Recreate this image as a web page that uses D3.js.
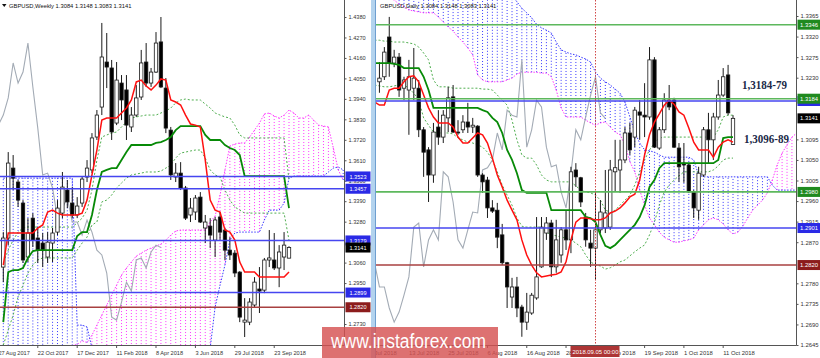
<!DOCTYPE html>
<html>
<head>
<meta charset="utf-8">
<script src="https://cdn.jsdelivr.net/npm/d3@7"></script>
<style>
  body { margin: 0; background: #fff; }
  svg { display: block; font-family: "Liberation Sans", Arial, sans-serif; }
</style>
</head>
<body>
<svg id="chart" width="820" height="358"></svg>
<script>
///////////////////////////////////////////////////////////////////////////////
// Weekly GBPUSD (bar 0 = first visible week)

const wOpen  = [1.3036,1.3192,1.3568,1.3493,1.3380,1.3090,1.3299,1.3192,1.3165,1.3090,1.3165,1.3224,1.3326,1.3450,1.3380,1.3316,1.3380,1.3520,1.3558,1.3735,1.3896,1.4138,1.4106,1.3810,1.4025,1.3988,1.3789,1.3853,1.3950,1.4138,1.4025,1.4084,1.4246,1.3998,1.3772,1.3520,1.3541,1.3461,1.3316,1.3332,1.3412,1.3246,1.3256,1.3181,1.3305,1.3235,1.3127,1.3111,1.3009,1.2740,1.2740,1.2832,1.2918,1.2912,1.3074,1.3074,1.3031,1.3090,1.3084];
const wHigh  = [1.3224,1.3654,1.3638,1.3504,1.3396,1.3299,1.3326,1.3251,1.3219,1.3224,1.3246,1.3396,1.3547,1.3504,1.3466,1.3412,1.3525,1.3611,1.3756,1.3880,1.4348,1.4294,1.4149,1.4138,1.4068,1.4068,1.3896,1.4014,1.4203,1.4240,1.4106,1.4299,1.4380,1.4052,1.3789,1.3595,1.3600,1.3472,1.3407,1.3423,1.3439,1.3316,1.3299,1.3305,1.3332,1.3246,1.3197,1.3127,1.3014,1.2869,1.2869,1.2982,1.3036,1.3085,1.3235,1.3219,1.3154,1.3224,1.3148];
const wLow   = [1.2955,1.3154,1.3450,1.3359,1.3058,1.3063,1.3144,1.3058,1.3036,1.3058,1.3063,1.3208,1.3299,1.3353,1.3299,1.3299,1.3359,1.3493,1.3541,1.3719,1.3853,1.3998,1.3719,1.3799,1.3826,1.3719,1.3762,1.3843,1.3934,1.4004,1.4004,1.4079,1.3998,1.3756,1.3504,1.3493,1.3450,1.3289,1.3278,1.3289,1.3273,1.3165,1.3138,1.3090,1.3181,1.3074,1.3074,1.2982,1.2740,1.2660,1.2724,1.2821,1.2789,1.2896,1.3036,1.3020,1.2928,1.3020,1.3083];
const wClose = [1.3192,1.3595,1.3514,1.3396,1.3074,1.3219,1.3181,1.3127,1.3127,1.3170,1.3219,1.3353,1.3466,1.3386,1.3316,1.3364,1.3509,1.3568,1.3730,1.3853,1.4165,1.4111,1.3762,1.4041,1.3934,1.3799,1.3853,1.3945,1.4133,1.4025,1.4084,1.4240,1.4004,1.3783,1.3531,1.3541,1.3461,1.3299,1.3353,1.3407,1.3278,1.3278,1.3208,1.3289,1.3224,1.3127,1.3101,1.3004,1.2767,1.2751,1.2848,1.2955,1.2907,1.3074,1.3085,1.3031,1.3117,1.3154,1.3141];

const wTenkan = [1.3047,1.3219,1.3219,1.3219,1.3219,1.3219,1.3219,1.3246,1.3262,1.3332,1.3342,1.3326,1.3316,1.3316,1.3316,1.3316,1.3326,1.3396,1.3531,1.3665,1.3826,1.3837,1.3837,1.3837,1.3864,1.3891,1.3934,1.4031,1.4041,1.4009,1.3988,1.4014,1.4047,1.4041,1.3934,1.3923,1.3907,1.3853,1.3805,1.3799,1.3789,1.3611,1.3396,1.3342,1.3332,1.3235,1.3224,1.3181,1.3063,1.3009,1.3009,1.3009,1.2982,1.2982,1.2982,1.2982,1.2982,1.2982,1.3009];
const wKijun  = [1.2740,1.3009,1.3020,1.3020,1.3031,1.3085,1.3122,1.3127,1.3127,1.3127,1.3127,1.3127,1.3127,1.3127,1.3127,1.3203,1.3224,1.3224,1.3316,1.3450,1.3547,1.3558,1.3568,1.3568,1.3611,1.3654,1.3692,1.3692,1.3692,1.3692,1.3692,1.3703,1.3708,1.3719,1.3735,1.3772,1.3794,1.3794,1.3794,1.3794,1.3794,1.3746,1.3719,1.3719,1.3719,1.3692,1.3676,1.3665,1.3638,1.3525,1.3525,1.3525,1.3525,1.3525,1.3525,1.3525,1.3525,1.3525,1.3353];
// senkou spans, already shifted forward (run 11 bars past the last candle)
const wSpanA  = [1.2455,1.2470,1.2462,1.2488,1.2495,1.2510,1.2534,1.2541,1.2538,1.2560,1.2575,1.2590,1.2600,1.2610,1.2615,1.2620,1.2640,1.2630,1.2670,1.2724,1.2778,1.2832,1.2886,1.2939,1.2993,1.3031,1.3063,1.3095,1.3111,1.3127,1.3138,1.3149,1.3160,1.3181,1.3208,1.3230,1.3235,1.3235,1.3235,1.3235,1.3235,1.3235,1.3278,1.3310,1.3423,1.3558,1.3687,1.3697,1.3703,1.3703,1.3735,1.3772,1.3810,1.3859,1.3864,1.3848,1.3837,1.3853,1.3880,1.3864,1.3837,1.3837,1.3853,1.3826,1.3799,1.3794,1.3789,1.3676,1.3558,1.3504];
const wSpanB  = [1.3514,1.3514,1.3514,1.3514,1.3514,1.3514,1.3514,1.3514,1.3514,1.3514,1.3514,1.3514,1.3514,1.3514,1.3514,1.2724,1.2724,1.2714,1.2601,1.2601,1.2601,1.2601,1.2601,1.2601,1.2601,1.2601,1.2601,1.2601,1.2601,1.2601,1.2601,1.2601,1.2601,1.2601,1.2601,1.2601,1.2601,1.2601,1.2601,1.2601,1.2601,1.2601,1.2601,1.2821,1.2939,1.3047,1.3181,1.3219,1.3224,1.3224,1.3224,1.3224,1.3224,1.3289,1.3342,1.3342,1.3342,1.3380,1.3514,1.3525,1.3525,1.3525,1.3525,1.3525,1.3525,1.3525,1.3547,1.3568,1.3574,1.3558];
// two extra dotted guide lines of the template
const wGuide1 = [1.3063,1.3127,1.3181,1.3224,1.3246,1.3251,1.3251,1.3251,1.3251,1.3251,1.3251,1.3251,1.3251,1.3251,1.3251,1.3273,1.3299,1.3342,1.3450,1.3611,1.3735,1.3746,1.3756,1.3762,1.3789,1.3816,1.3837,1.3843,1.3848,1.3853,1.3853,1.3853,1.3864,1.3875,1.3891,1.3918,1.3934,1.3939,1.3934,1.3934,1.3934,1.3912,1.3891,1.3864,1.3853,1.3843,1.3837,1.3799,1.3746,1.3730,1.3730,1.3730,1.3730,1.3730,1.3730,1.3730,1.3730,1.3730,1.3504];
const wGuide2 = [1.2617,1.2697,1.2778,1.2875,1.2939,1.3004,1.3047,1.3074,1.3085,1.3085,1.3085,1.3085,1.3085,1.3085,1.3085,1.3127,1.3165,1.3197,1.3262,1.3278,1.3386,1.3396,1.3423,1.3461,1.3488,1.3514,1.3531,1.3536,1.3541,1.3547,1.3547,1.3547,1.3552,1.3568,1.3584,1.3622,1.3649,1.3654,1.3660,1.3665,1.3665,1.3622,1.3558,1.3531,1.3520,1.3450,1.3396,1.3359,1.3342,1.3326,1.3326,1.3326,1.3326,1.3326,1.3326,1.3326,1.3326,1.3326,1.3181];

const wPriceTicks = [1.4380,1.4270,1.4160,1.4050,1.3940,1.3830,1.3720,1.3610,1.3500,1.3390,1.3280,1.3170,1.3060,1.2950,1.2840,1.2730];
const wDateTickBars = [-1, 7, 15, 23, 31, 39, 47, 55];
const wDateTickLabels = ["27 Aug 2017","22 Oct 2017","17 Dec 2017","11 Feb 2018","8 Apr 2018","3 Jun 2018","29 Jul 2018","23 Sep 2018"];
const wLevels = [1.3523, 1.3457, 1.3179, 1.2899, 1.2820];
const wLevelKinds = ["blue", "blue", "blue", "blue", "red"];

///////////////////////////////////////////////////////////////////////////////
// Daily GBPUSD (bar 0 = 13 Jul 2018, candles start at bar -6, lines at -7)

const dOpen  = [1.3221,1.3232,1.3319,1.3262,1.3275,1.3207,1.3203,1.3207,1.3207,1.3116,1.3072,1.3017,1.3122,1.3100,1.3142,1.3188,1.3111,1.3116,1.3133,1.3122,1.3124,1.3017,1.3006,1.2945,1.2940,1.2886,1.2825,1.2750,1.2772,1.2728,1.2695,1.2715,1.2748,1.2816,1.2890,1.2912,1.2816,1.2842,1.2897,1.2875,1.3028,1.3011,1.2925,1.2868,1.2857,1.2897,1.2901,1.2903,1.3024,1.3028,1.3050,1.3109,1.3100,1.3155,1.3148,1.3144,1.3269,1.3076,1.3116,1.3181,1.3181,1.3076,1.3043,1.3039,1.2980,1.2940,1.3017,1.3116,1.3094,1.3144,1.3192,1.3236,1.3084];
const dHigh  = [1.3264,1.3297,1.3363,1.3291,1.3284,1.3232,1.3269,1.3295,1.3225,1.3122,1.3078,1.3131,1.3159,1.3159,1.3210,1.3214,1.3137,1.3148,1.3175,1.3142,1.3126,1.3021,1.3013,1.2962,1.2956,1.2910,1.2827,1.2792,1.2794,1.2733,1.2759,1.2759,1.2925,1.2925,1.2925,1.2919,1.2919,1.2903,1.2940,1.3035,1.3043,1.3013,1.2934,1.2897,1.2978,1.2962,1.3028,1.3050,1.3094,1.3094,1.3122,1.3131,1.3166,1.3181,1.3218,1.3297,1.3275,1.3122,1.3196,1.3214,1.3186,1.3087,1.3087,1.3043,1.2984,1.3035,1.3122,1.3153,1.3153,1.3225,1.3251,1.3258,1.3148];
const dLow   = [1.3197,1.3225,1.3232,1.3253,1.3188,1.3181,1.3105,1.3181,1.3100,1.3013,1.2958,1.3000,1.3083,1.3087,1.3111,1.3109,1.3105,1.3109,1.3109,1.3109,1.3013,1.2978,1.2923,1.2934,1.2857,1.2820,1.2726,1.2726,1.2706,1.2663,1.2678,1.2711,1.2744,1.2814,1.2875,1.2794,1.2803,1.2825,1.2853,1.2846,1.2991,1.2947,1.2860,1.2816,1.2787,1.2890,1.2890,1.2897,1.2980,1.2978,1.3043,1.3061,1.3078,1.3094,1.3100,1.3138,1.3076,1.3072,1.3109,1.3159,1.3076,1.3002,1.3000,1.2978,1.2923,1.2919,1.3013,1.3043,1.3050,1.3138,1.3188,1.3148,1.3083];
const dClose = [1.3229,1.3286,1.3262,1.3275,1.3203,1.3225,1.3232,1.3229,1.3116,1.3067,1.3017,1.3111,1.3100,1.3148,1.3186,1.3111,1.3109,1.3133,1.3122,1.3126,1.3017,1.3002,1.2945,1.2938,1.2881,1.2825,1.2772,1.2772,1.2726,1.2695,1.2717,1.2754,1.2794,1.2903,1.2912,1.2816,1.2875,1.2897,1.2875,1.3024,1.3013,1.2958,1.2875,1.2857,1.2897,1.2936,1.2934,1.3028,1.3033,1.3050,1.3109,1.3072,1.3159,1.3148,1.3144,1.3269,1.3078,1.3116,1.3181,1.3166,1.3078,1.3035,1.3039,1.2980,1.2945,1.3021,1.3116,1.3094,1.3144,1.3192,1.3232,1.3153,1.3141];

const dTenkan = [1.3177,1.3170,1.3170,1.3203,1.3207,1.3207,1.3221,1.3232,1.3234,1.3221,1.3192,1.3164,1.3144,1.3131,1.3131,1.3131,1.3122,1.3100,1.3087,1.3087,1.3098,1.3109,1.3105,1.3087,1.3054,1.3017,1.2991,1.2962,1.2940,1.2919,1.2875,1.2842,1.2820,1.2803,1.2794,1.2796,1.2798,1.2800,1.2805,1.2827,1.2875,1.2914,1.2923,1.2923,1.2921,1.2919,1.2919,1.2923,1.2934,1.2938,1.2945,1.2956,1.2969,1.2975,1.3006,1.3061,1.3105,1.3133,1.3151,1.3170,1.3181,1.3172,1.3155,1.3148,1.3120,1.3089,1.3072,1.3072,1.3072,1.3056,1.3078,1.3089,1.3094,1.3089];
const dKijun  = [1.3262,1.3262,1.3262,1.3262,1.3260,1.3258,1.3251,1.3251,1.3251,1.3251,1.3232,1.3203,1.3164,1.3164,1.3164,1.3164,1.3164,1.3164,1.3164,1.3164,1.3164,1.3164,1.3159,1.3155,1.3142,1.3133,1.3109,1.3072,1.3050,1.3021,1.2984,1.2978,1.2978,1.2978,1.2978,1.2978,1.2940,1.2940,1.2940,1.2940,1.2940,1.2940,1.2940,1.2925,1.2923,1.2914,1.2886,1.2862,1.2857,1.2864,1.2875,1.2886,1.2897,1.2908,1.2925,1.2951,1.2991,1.3006,1.3032,1.3043,1.3043,1.3043,1.3043,1.3043,1.3043,1.3043,1.3043,1.3043,1.3043,1.3043,1.3050,1.3098,1.3100,1.3100];
const dSpanA  = [1.3422,1.3418,1.3411,1.3404,1.3400,1.3391,1.3385,1.3378,1.3376,1.3374,1.3372,1.3372,1.3372,1.3363,1.3352,1.3341,1.3332,1.3319,1.3308,1.3295,1.3280,1.3236,1.3225,1.3221,1.3221,1.3221,1.3221,1.3225,1.3229,1.3238,1.3242,1.3242,1.3242,1.3242,1.3240,1.3240,1.3232,1.3203,1.3164,1.3144,1.3144,1.3144,1.3144,1.3137,1.3131,1.3126,1.3131,1.3133,1.3122,1.3111,1.3105,1.3083,1.3046,1.3024,1.2984,1.2951,1.2923,1.2908,1.2892,1.2881,1.2875,1.2870,1.2870,1.2873,1.2875,1.2879,1.2897,1.2908,1.2919,1.2923,1.2919,1.2910,1.2897,1.2888,1.2892,1.2905,1.2923,1.2940,1.2951,1.2962,1.2978,1.3006,1.3039,1.3065,1.3083,1.3100,1.3109];
const dSpanB  = [1.3460,1.3460,1.3460,1.3460,1.3460,1.3460,1.3460,1.3460,1.3460,1.3460,1.3460,1.3460,1.3460,1.3460,1.3460,1.3460,1.3460,1.3460,1.3460,1.3460,1.3460,1.3460,1.3460,1.3460,1.3460,1.3460,1.3460,1.3430,1.3410,1.3396,1.3382,1.3372,1.3361,1.3347,1.3339,1.3334,1.3328,1.3308,1.3291,1.3286,1.3282,1.3280,1.3275,1.3271,1.3264,1.3242,1.3229,1.3221,1.3214,1.3205,1.3196,1.3177,1.3144,1.3111,1.3087,1.3072,1.3070,1.3067,1.3061,1.3056,1.3056,1.3056,1.3056,1.3056,1.3056,1.3050,1.3017,1.3013,1.3013,1.3013,1.3013,1.3013,1.3013,1.3013,1.3013,1.3013,1.3013,1.3013,1.3013,1.3013,1.3013,1.2995,1.2984,1.2984,1.2984,1.2984,1.2984];
const dGuide1 = [1.3312,1.3312,1.3310,1.3310,1.3308,1.3308,1.3308,1.3306,1.3304,1.3297,1.3284,1.3269,1.3225,1.3210,1.3210,1.3210,1.3207,1.3207,1.3207,1.3207,1.3207,1.3207,1.3205,1.3205,1.3203,1.3192,1.3181,1.3170,1.3137,1.3094,1.3061,1.3054,1.3054,1.3039,1.3017,1.3006,1.3002,1.3002,1.3002,1.3002,1.3002,1.2993,1.2984,1.2980,1.2978,1.2973,1.2962,1.2940,1.2936,1.2940,1.2951,1.2962,1.2973,1.2995,1.3024,1.3050,1.3072,1.3087,1.3098,1.3100,1.3100,1.3100,1.3100,1.3100,1.3100,1.3100,1.3100,1.3100,1.3100,1.3100,1.3116,1.3144,1.3148,1.3148];
const dGuide2 = [1.3214,1.3212,1.3210,1.3210,1.3212,1.3214,1.3214,1.3207,1.3196,1.3181,1.3142,1.3126,1.3111,1.3109,1.3109,1.3109,1.3107,1.3098,1.3094,1.3089,1.3087,1.3083,1.3078,1.3067,1.3050,1.3024,1.2995,1.2973,1.2951,1.2923,1.2905,1.2903,1.2903,1.2903,1.2903,1.2892,1.2886,1.2884,1.2881,1.2879,1.2875,1.2868,1.2860,1.2842,1.2827,1.2820,1.2818,1.2811,1.2814,1.2820,1.2827,1.2831,1.2840,1.2849,1.2857,1.2864,1.2886,1.2914,1.2951,1.2980,1.2995,1.3006,1.3015,1.3024,1.3024,1.3024,1.3024,1.3024,1.3024,1.3028,1.3037,1.3050,1.3054,1.3054];

const dPriceTicks = [1.3365,1.3320,1.3275,1.3230,1.3185,1.3140,1.3095,1.3050,1.3005,1.2960,1.2915,1.2870,1.2825,1.2780,1.2735,1.2690,1.2645];
const dDateTickBars = [-8, 0, 8, 16, 24, 32, 40, 48, 56, 64];
const dDateTickLabels = ["3 Jul 2018","13 Jul 2018","25 Jul 2018","6 Aug 2018","16 Aug 2018","28 Aug 2018","7 Sep 2018","19 Sep 2018","1 Oct 2018","11 Oct 2018"];
const dLevels = [1.3346, 1.3184, 1.3179, 1.2980, 1.2901, 1.2820];
const dLevelKinds = ["green", "green", "blue", "green", "blue", "red"];
const dCursorBar = 38;                 // 2018.09.05
const dCursorLabel = "2018.09.05 00:00";
const lastQuote = "1.3084 1.3148 1.3083 1.3141";
const lastClose = 1.3141;

///////////////////////////////////////////////////////////////////////////////
// Drawing

const BLUE = "#3838ff", MAG = "#ff38ff";
const levelLine = { blue: "#4646f0", green: "#5db85d", red: "#a84040" };
const levelBox  = { blue: "#2a2ae6", green: "#1f8a1f", red: "#8c1c1c" };

const svg = d3.select("#chart");
const defs = svg.append("defs");

var clipped = function (id, x0, x1, y1) {
  defs.append("clipPath").attr("id", id).append("rect")
    .attr("x", x0).attr("y", 0).attr("width", x1 - x0).attr("height", y1);
  return svg.append("g").attr("clip-path", "url(#" + id + ")");
};

var drawChart = function (c) {
  var x = c.x, y = c.y;
  var plot = clipped(c.id, c.left, c.right, c.bottom);
  var linePath = function (vals, start) {
    return d3.line().x(function (v, k) { return x(k + start); }).y(function (v) { return y(v); })(vals);
  };

  // kumo: one dotted stick per bar between the two spans
  var kumo = c.spanA.map(function (a, k) { return { i: k + c.lineStart, a: a, b: c.spanB[k] }; });
  plot.append("g").selectAll("line").data(kumo).join("line")
    .attr("x1", function (d) { return x(d.i); }).attr("x2", function (d) { return x(d.i); })
    .attr("y1", function (d) { return y(d.a); }).attr("y2", function (d) { return y(d.b); })
    .attr("stroke", function (d) { return d.b > d.a ? BLUE : MAG; })
    .attr("stroke-width", 1).attr("stroke-dasharray", "1,2");
  plot.append("path").attr("d", linePath(c.spanA, c.lineStart))
    .attr("fill", "none").attr("stroke", MAG).attr("stroke-width", 1).attr("stroke-dasharray", "1.5,1.5");
  plot.append("path").attr("d", linePath(c.spanB, c.lineStart))
    .attr("fill", "none").attr("stroke", BLUE).attr("stroke-width", 1).attr("stroke-dasharray", "1.5,1.5");

  // dotted guides
  [c.guide1, c.guide2].forEach(function (g) {
    plot.append("path").attr("d", linePath(g, c.lineStart))
      .attr("fill", "none").attr("stroke", "#4fae4f").attr("stroke-width", 1).attr("stroke-dasharray", "2,2");
  });

  // chikou: closes drawn 26 bars back
  plot.append("path").attr("d", linePath(c.close, c.candleStart - 26))
    .attr("fill", "none").attr("stroke", "#a3abb5").attr("stroke-width", 1.1);

  // candles
  var bars = c.open.map(function (o, k) {
    return { i: k + c.candleStart, o: o, h: c.high[k], l: c.low[k], c: c.close[k] };
  });
  var cg = plot.append("g");
  cg.selectAll("line").data(bars).join("line")
    .attr("x1", function (d) { return x(d.i); }).attr("x2", function (d) { return x(d.i); })
    .attr("y1", function (d) { return y(d.h); }).attr("y2", function (d) { return y(d.l); })
    .attr("stroke", "#1a1a1a").attr("stroke-width", 1);
  cg.selectAll("rect").data(bars).join("rect")
    .attr("x", function (d) { return x(d.i) - 1.7; }).attr("width", 3.4)
    .attr("y", function (d) { return y(Math.max(d.o, d.c)); })
    .attr("height", function (d) { return Math.max(0.8, Math.abs(y(d.o) - y(d.c))); })
    .attr("fill", function (d) { return d.c >= d.o ? "#fff" : "#000"; })
    .attr("stroke", "#1a1a1a").attr("stroke-width", 0.8);

  // tenkan / kijun
  plot.append("path").attr("d", linePath(c.kijun, c.lineStart))
    .attr("fill", "none").attr("stroke", "#078a07").attr("stroke-width", 1.8);
  plot.append("path").attr("d", linePath(c.tenkan, c.lineStart))
    .attr("fill", "none").attr("stroke", "#ff1010").attr("stroke-width", 1.5);

  // horizontal levels
  c.levels.forEach(function (p, k) {
    plot.append("line").attr("x1", c.left).attr("x2", c.right).attr("y1", y(p)).attr("y2", y(p))
      .attr("stroke", levelLine[c.kinds[k]]).attr("stroke-width", 1.6);
  });

  // axes frame
  svg.append("line").attr("x1", c.right + 0.5).attr("x2", c.right + 0.5).attr("y1", 0).attr("y2", c.bottom + 0.5)
    .attr("stroke", "#555").attr("stroke-width", 1);
  svg.append("line").attr("x1", c.left).attr("x2", c.right + 0.5).attr("y1", c.bottom + 0.5).attr("y2", c.bottom + 0.5)
    .attr("stroke", "#555").attr("stroke-width", 1);

  // price axis; a label that sits right under a box is hidden, like the terminal does
  var boxPrices = c.levels.concat([lastClose]);
  var visibleTicks = c.priceTicks.filter(function (t) {
    return !boxPrices.some(function (p) { return Math.abs(y(p) - y(t)) < 4; });
  });
  var ya = svg.append("g").attr("transform", "translate(" + (c.right + 0.5) + ",0)")
    .call(d3.axisRight(y).tickValues(visibleTicks).tickFormat(d3.format(".4f")).tickSize(2).tickPadding(2));
  ya.select(".domain").remove();
  ya.selectAll("text").attr("font-size", c.tickFont).attr("fill", "#333")
    .attr("font-family", "'Liberation Sans', Arial, sans-serif");
  ya.selectAll("line").attr("stroke", "#555");

  // boxes on the price axis (lower levels first so the upper one stays on top)
  var boxes = c.levels.map(function (p, k) { return { p: p, kind: c.kinds[k] }; }).reverse();
  boxes.push({ p: lastClose, kind: "last" });
  boxes.forEach(function (b) {
    var cy = y(b.p);
    svg.append("rect").attr("x", c.right + 1.5).attr("y", cy - 5).attr("width", c.boxW).attr("height", 10)
      .attr("fill", b.kind === "last" ? "#000" : levelBox[b.kind]);
    svg.append("text").attr("x", c.right + 1.5 + c.boxW / 2).attr("y", cy + 2.1)
      .attr("text-anchor", "middle").attr("font-size", c.tickFont).attr("fill", "#fff")
      .text(d3.format(".4f")(b.p));
  });

  // date axis
  var xg = svg.append("g").attr("clip-path", "url(#" + c.id + "-x)");
  defs.append("clipPath").attr("id", c.id + "-x").append("rect")
    .attr("x", c.left).attr("y", c.bottom).attr("width", c.right - c.left + 30).attr("height", 20);
  c.dateBars.forEach(function (b, k) {
    var px = x(b);
    xg.append("line").attr("x1", px).attr("x2", px).attr("y1", c.bottom + 0.5).attr("y2", c.bottom + 3)
      .attr("stroke", "#555");
    xg.append("text").attr("x", px).attr("y", c.bottom + 10).attr("font-size", c.tickFont)
      .attr("fill", "#333").text(c.dateLabels[k]);
  });

  // title
  svg.append("text").attr("x", c.titleX).attr("y", 8).attr("font-size", 5.8).attr("fill", "#111")
    .text(c.title + "  " + lastQuote);
  return plot;
};

// weekly panel
var wx = d3.scaleLinear().domain([0, 58]).range([3.3, 289]);
var wy = d3.scaleLinear().domain([1.2730, 1.4380]).range([324, 17]);
drawChart({
  id: "wk", left: 0, right: 344, bottom: 345, x: wx, y: wy,
  open: wOpen, high: wHigh, low: wLow, close: wClose, candleStart: 0,
  tenkan: wTenkan, kijun: wKijun, spanA: wSpanA, spanB: wSpanB, guide1: wGuide1, guide2: wGuide2, lineStart: 0,
  levels: wLevels, kinds: wLevelKinds, priceTicks: wPriceTicks, tickFont: 5.6, boxW: 25,
  dateBars: wDateTickBars, dateLabels: wDateTickLabels, title: "GBPUSD,Weekly", titleX: 9
});
svg.append("path").attr("d", "M2,4 L6.5,4 L4.25,7 Z").attr("fill", "#111");

// daily panel sits over the weekly label column
svg.append("rect").attr("x", 372).attr("y", 0).attr("width", 448).attr("height", 358).attr("fill", "#fff");
svg.append("rect").attr("x", 371).attr("y", 0).attr("width", 4).attr("height", 358).attr("fill", "#b3d3ee");
svg.append("line").attr("x1", 375.5).attr("x2", 375.5).attr("y1", 0).attr("y2", 358).attr("stroke", "#6e9fd0");

var dx = d3.scaleLinear().domain([0, 66]).range([408.9, 733]);
var dy = d3.scaleLinear().domain([1.2645, 1.3365]).range([345, 16]);
var dPlot = drawChart({
  id: "dl", left: 376, right: 796, bottom: 345, x: dx, y: dy,
  open: dOpen, high: dHigh, low: dLow, close: dClose, candleStart: -6,
  tenkan: dTenkan, kijun: dKijun, spanA: dSpanA, spanB: dSpanB, guide1: dGuide1, guide2: dGuide2, lineStart: -7,
  levels: dLevels, kinds: dLevelKinds, priceTicks: dPriceTicks, tickFont: 5.9, boxW: 23,
  dateBars: dDateTickBars, dateLabels: dDateTickLabels, title: "GBPUSD,Daily", titleX: 380
});

// cursor line and its date box
dPlot.append("line").attr("x1", dx(dCursorBar)).attr("x2", dx(dCursorBar)).attr("y1", 0).attr("y2", 345)
  .attr("stroke", "#d04848").attr("stroke-width", 1).attr("stroke-dasharray", "1.5,1.5");
svg.append("rect").attr("x", dx(dCursorBar) - 25).attr("y", 346).attr("width", 49).attr("height", 11).attr("fill", "#ad3535");
svg.append("text").attr("x", dx(dCursorBar)).attr("y", 354).attr("text-anchor", "middle")
  .attr("font-size", 5.9).attr("fill", "#fff").text(dCursorLabel);

// level notes
svg.append("text").attr("x", 742).attr("y", 89).attr("font-family", "'Liberation Serif', 'Times New Roman', serif")
  .attr("font-weight", "bold").attr("font-size", 13).attr("fill", "#1b2a48")
  .attr("textLength", 45).attr("lengthAdjust", "spacingAndGlyphs").text("1,3184-79");
svg.append("text").attr("x", 744).attr("y", 143).attr("font-family", "'Liberation Serif', 'Times New Roman', serif")
  .attr("font-weight", "bold").attr("font-size", 13).attr("fill", "#1b2a48")
  .attr("textLength", 45).attr("lengthAdjust", "spacingAndGlyphs").text("1,3096-89");

// watermark
svg.append("rect").attr("x", 322).attr("y", 327).attr("width", 176).attr("height", 31)
  .attr("fill", "#d65252").attr("opacity", 0.82);
svg.append("text").attr("x", 331).attr("y", 348).attr("font-size", 20).attr("fill", "#fff")
  .attr("textLength", 155).attr("lengthAdjust", "spacingAndGlyphs").text("www.instaforex.com");
</script>
</body>
</html>
